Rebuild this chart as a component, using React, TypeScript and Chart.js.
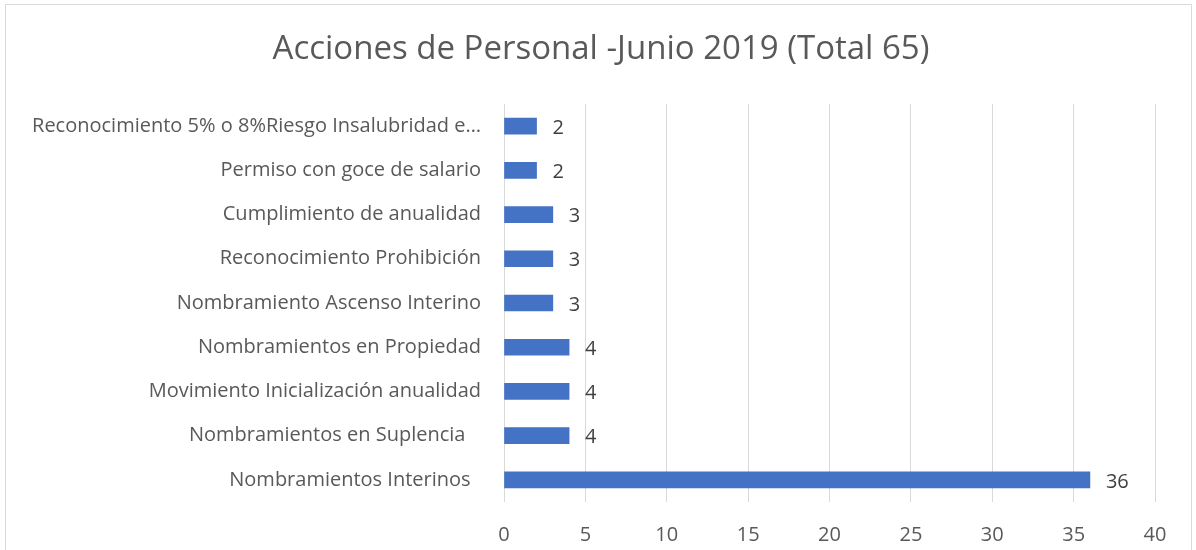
import React, { useEffect, useRef } from "react";
import { Chart, registerables } from "chart.js";

Chart.register(...registerables);

const titleText = "Acciones de Personal -Junio 2019 (Total 65)";
const categories = [
  "Reconocimiento 5% o 8%Riesgo Insalubridad e…",
  "Permiso con goce de salario",
  "Cumplimiento de anualidad",
  "Reconocimiento Prohibición",
  "Nombramiento Ascenso Interino",
  "Nombramientos en Propiedad",
  "Movimiento Inicialización anualidad",
  "Nombramientos en Suplencia   ",
  "Nombramientos Interinos  ",
];
const values = [2, 2, 3, 3, 3, 4, 4, 4, 36];
const xMin = 0;
const xMax = 40;
const xStep = 5;

const FONT = "'Open Sans', sans-serif";

const titlePlugin = {
  id: "customTitle",
  afterDraw(chart: any) {
    const ctx = chart.ctx;
    ctx.save();
    ctx.font = `33px ${FONT}`;
    ctx.fillStyle = "#595959";
    ctx.textAlign = "center";
    ctx.textBaseline = "middle";
    ctx.fillText(titleText, 601, 50);
    ctx.restore();
  },
};

const dataLabelPlugin = {
  id: "dataLabels",
  afterDatasetsDraw(chart: any) {
    const ctx = chart.ctx;
    const meta = chart.getDatasetMeta(0);
    ctx.save();
    ctx.font = `20px ${FONT}`;
    ctx.fillStyle = "#404040";
    ctx.textAlign = "left";
    ctx.textBaseline = "middle";
    meta.data.forEach((el: any, i: number) => {
      ctx.fillText(String(values[i]), el.x + 16, el.y + 2);
    });
    ctx.restore();
  },
};

export default function App() {
  const ref = useRef<HTMLCanvasElement>(null);
  useEffect(() => {
    if (!ref.current) return;
    const chart = new Chart(ref.current, {
      type: "bar",
      data: {
        labels: categories,
        datasets: [
          {
            data: values,
            backgroundColor: "#4472C4",
            borderWidth: 0,
            barThickness: 16,
          },
        ],
      },
      options: {
        indexAxis: "y",
        animation: false,
        responsive: false,
        maintainAspectRatio: false,
        layout: { padding: { left: 0, right: 41, top: 104, bottom: 0 } },
        plugins: {
          legend: { display: false },
          tooltip: { enabled: false },
          title: { display: false },
        },
        scales: {
          x: {
            min: xMin,
            max: xMax,
            border: { display: false },
            grid: { color: "#d9d9d9", lineWidth: 1, drawTicks: false },
            ticks: {
              stepSize: xStep,
              color: "#595959",
              font: { family: FONT, size: 20 },
              padding: 21,
            },
            afterFit(scale: any) {
              scale.height = 48;
            },
          },
          y: {
            border: { display: false },
            grid: { display: false, drawTicks: false },
            ticks: {
              color: "#595959",
              font: { family: FONT, size: 20 },
              padding: 23,
              autoSkip: false,
            },
            afterFit(scale: any) {
              scale.width = 504;
            },
          },
        },
      },
      plugins: [dataLabelPlugin, titlePlugin],
    });
    return () => chart.destroy();
  }, []);

  return (
    <div style={{ position: "fixed", left: 0, top: 0, width: 1196, height: 550, background: "#fff", overflow: "hidden" }}>
      <canvas ref={ref} width={1196} height={550} style={{ position: "absolute", left: 0, top: 0 }} />
      <div
        style={{
          position: "absolute",
          left: 5,
          top: 4,
          width: 1185,
          height: 600,
          border: "1px solid #d9d9d9",
          pointerEvents: "none",
        }}
      />
    </div>
  );
}
